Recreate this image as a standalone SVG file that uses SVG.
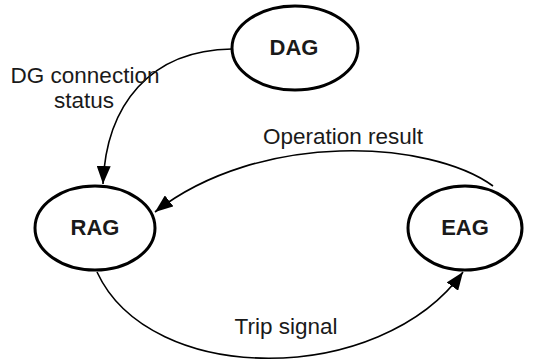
<svg xmlns="http://www.w3.org/2000/svg" width="555" height="360" viewBox="0 0 555 360">
<defs>
<marker id="arrow" markerUnits="userSpaceOnUse" markerWidth="20" markerHeight="14" refX="18" refY="7" orient="auto">
<path d="M0,0 L18,7 L0,14 z" fill="#000"/>
</marker>
<style>
.node ellipse{fill:#fff;stroke:#000;stroke-width:3}
.node text{font-family:"Liberation Sans",Arial,sans-serif;font-weight:bold;font-size:22px;fill:#1a1a1a;text-anchor:middle}
.edge{fill:none;stroke:#000;stroke-width:1.6;marker-end:url(#arrow)}
.label{font-family:"Liberation Sans",Arial,sans-serif;font-size:22.5px;fill:#1a1a1a;text-anchor:middle}
</style>
</defs>
<rect width="555" height="360" fill="#fff"/>
<g id="connectors">
<path class="edge" d="M232,49 C150,50 106,105 103,184"/>
<path class="edge" d="M493,186 C430,140 260,130 155,212"/>
<path class="edge" d="M97,272 C150,387 380,387 463,272"/>
<text class="label" x="85" y="83">DG connection</text>
<text class="label" x="84" y="108">status</text>
<text class="label" x="343" y="144">Operation result</text>
<text class="label" x="286" y="334">Trip signal</text>
</g>
<g id="DAG" class="node">
<ellipse cx="295" cy="48" rx="63" ry="42"/>
<text x="294" y="55">DAG</text>
</g>
<g id="RAG" class="node">
<ellipse cx="95" cy="228" rx="60" ry="42"/>
<text x="95" y="235">RAG</text>
</g>
<g id="EAG" class="node">
<ellipse cx="465" cy="228" rx="57" ry="42"/>
<text x="465" y="235">EAG</text>
</g>
</svg>
